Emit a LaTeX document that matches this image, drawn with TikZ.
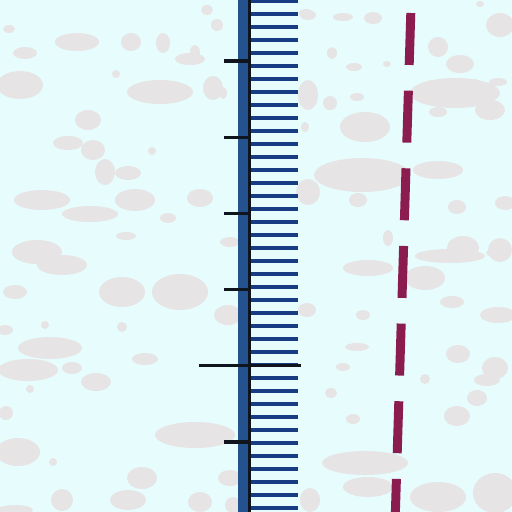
\documentclass[tikz,border=0pt]{standalone}
\usepackage{tikz}
\definecolor{skybg}{HTML}{E6FCFD}
\definecolor{cloudgray}{HTML}{E6E4E4}
\definecolor{rulerblue}{HTML}{24528F}
\definecolor{tickblue}{HTML}{183C84}
\definecolor{markblack}{HTML}{10141C}
\definecolor{dashred}{HTML}{8A1C4F}
\newcommand{\blotch}[4]{%
  \fill[cloudgray] (#1,#2) ellipse [x radius=#3, y radius=#4];
}
\newcommand{\bluetick}[1]{%
  \draw[tickblue,line width=1.9pt] (250,#1) -- (298,#1);
}
\begin{document}
\begin{tikzpicture}[x=0.02cm,y=-0.02cm]
  \useasboundingbox (0,0) rectangle (512,512);
  \fill[skybg] (0,0) rectangle (512,512);
  \foreach \cx/\cy/\rx/\ry in {9/29/6/4,25/53/12/6,77/42/22/9,131/42/10/9,163/43/7/10,190/59/15/6,
    20/85/23/14,116/74/4/4,160/92/33/12,88/120/13/10,68/143/15/7,93/150/12/10,105/172/10/13,
    128/173/13/7,152/151/4/4,207/10/6/5,217/25/6/6,195/52/5/7,213/88/10/12,223/93/4/6,
    42/200/28/10,90/214/28/8,135/200/20/11,168/218/8/5,200/198/13/9,126/236/10/4,230/242/10/5,
    37/252/25/12,62/265/25/10,15/292/12/7,122/292/23/15,180/292/28/18,228/315/14/10,5/330/8/5,
    45/325/4/4,122/327/5/5,50/348/32/11,28/370/30/11,72/368/10/6,145/359/13/6,96/382/15/9,
    30/389/4/4,6/413/7/7,195/435/40/13,18/452/22/14,53/462/4/4,142/478/15/11,128/500/18/10,
    62/500/11/11,230/478/12/8,200/502/12/10,15/510/18/5,233/505/8/8}
    {\blotch{\cx}{\cy}{\rx}{\ry}}
  \foreach \cx/\cy/\rx/\ry in {306/13/7/4,343/17/10/4,373/18/9/6,480/4/4/3,500/25/14/12,438/47/10/10,
    332/53/5/6,460/64/14/9,354/67/8/4,387/64/4/3,475/82/4/3,498/82/9/4,308/95/10/15,330/103/7/7,
    357/97/7/4,455/93/45/15,438/112/9/5,490/110/15/10,365/127/25/15,305/127/4/5,362/175/48/17,
    438/170/25/9,308/192/12/13,358/200/9/7,457/207/9/7,505/203/10/7,388/238/5/8,463/248/16/12,
    500/250/12/12,368/268/25/8,425/278/20/12,450/256/35/7,490/253/4/3,452/302/12/6,498/315/18/8,
    307/310/9/7,363/315/7/5,458/354/12/9,357/347/12/4,343/367/7/4,495/368/13/11,425/379/5/5,
    487/380/13/6,331/393/6/5,477/398/10/8,457/416/13/10,353/419/7/5,365/463/43/12,368/487/25/10,
    438/497/28/15,495/493/22/20,310/500/10/12,308/15/8/5,305/95/4/6}
    {\blotch{\cx}{\cy}{\rx}{\ry}}
  \fill[rulerblue] (238,0) rectangle (248,512);
  \foreach \k in {0,...,39}
    {\bluetick{1+13*\k}}
  \draw[markblack,line width=2pt] (249.5,0) -- (249.5,512);
  \foreach \k in {0,1,2,3,5}
    \draw[markblack,line width=1.9pt] (224,61+76.2*\k) -- (250,61+76.2*\k);
  \draw[markblack,line width=1.9pt] (199,365.8) -- (301,365.8);
  \draw[dashred,line width=5.1pt,dash pattern=on 1.04cm off 0.514cm,dash phase=1.294cm]
    (411.2,0) -- (395.4,512);
\end{tikzpicture}
\end{document}
